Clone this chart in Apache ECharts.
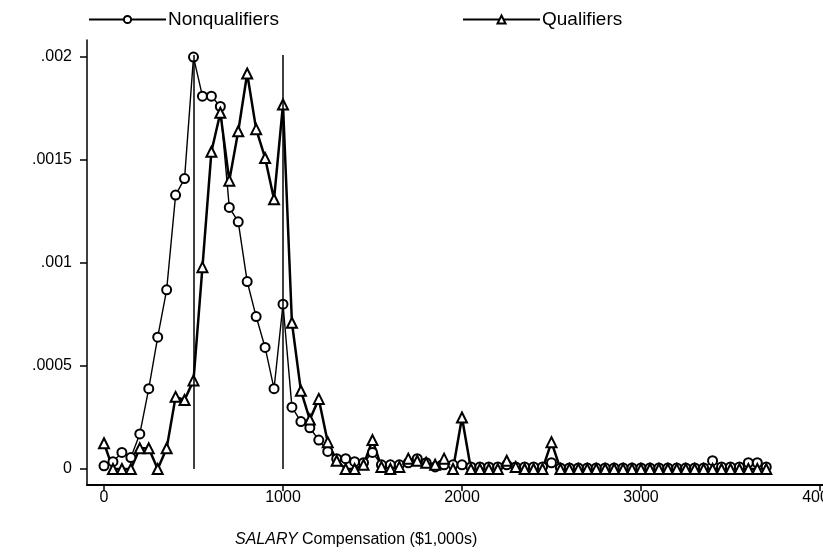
<!DOCTYPE html>
<html style="height: 100%">
<head>
    <meta charset="utf-8">
</head>
<body style="height: 100%; margin: 0; background: #fff">
<div id="container" style="width: 823px; height: 552px"></div>
<script src="https://cdn.jsdelivr.net/npm/echarts@6/dist/echarts.min.js"></script>
<script>
    // salary bins ($1,000s)
    var salary = [
        0, 50, 100, 150, 200, 250, 300, 350, 400, 450,
        500, 550, 600, 650, 700, 750, 800, 850, 900, 950,
        1000, 1050, 1100, 1150, 1200, 1250, 1300, 1350, 1400, 1450,
        1500, 1550, 1600, 1650, 1700, 1750, 1800, 1850, 1900, 1950,
        2000, 2050, 2100, 2150, 2200, 2250, 2300, 2350, 2400, 2450,
        2500, 2550, 2600, 2650, 2700, 2750, 2800, 2850, 2900, 2950,
        3000, 3050, 3100, 3150, 3200, 3250, 3300, 3350, 3400, 3450,
        3500, 3550, 3600, 3650, 3700
    ];
    var nonqualifiers = [
        0.000015, 0.000035, 0.00008, 0.000055, 0.00017, 0.00039, 0.00064, 0.00087, 0.00133, 0.00141,
        0.0020, 0.00181, 0.00181, 0.00176, 0.00127, 0.0012, 0.00091, 0.00074, 0.00059, 0.00039,
        0.0008, 0.0003, 0.00023, 0.0002, 0.00014, 0.000085, 0.00005, 0.00005, 0.000035, 0.00003,
        0.00008, 0.00002, 0.00002, 0.00002, 0.00003, 0.00005, 0.00003, 0.00001, 0.00002, 0.00002,
        0.00002, 0.00001, 0.00001, 0.00001, 0.00001, 0.00002, 0.00001, 0.00001, 0.00001, 0.00001,
        0.00003, 0.000005, 0.000005, 0.000005, 0.000005, 0.000005, 0.000005, 0.000005, 0.000005, 0.000005,
        0.000005, 0.000005, 0.000005, 0.000005, 0.000005, 0.000005, 0.000005, 0.000005, 0.00004, 0.00001,
        0.00001, 0.00001, 0.00003, 0.00003, 0.00001
    ];
    var qualifiers = [
        0.000125, 0, 0, 0, 0.0001, 0.0001, 0, 0.0001, 0.00035, 0.000335,
        0.00043, 0.00098, 0.00154, 0.00173, 0.0014, 0.00164, 0.00192, 0.00165, 0.00151, 0.00131,
        0.00177, 0.00071, 0.00038, 0.00024, 0.00034, 0.00013, 0.00004, 0, 0, 0.00002,
        0.00014, 0.00001, 0, 0.00001, 0.00005, 0.00004, 0.00003, 0.00002, 0.00005, 0,
        0.00025, 0, 0, 0, 0, 0.00004, 0.00001, 0, 0, 0,
        0.00013, 0, 0, 0, 0, 0, 0, 0, 0, 0,
        0, 0, 0, 0, 0, 0, 0, 0, 0, 0,
        0, 0, 0, 0, 0
    ];
    var xTicks = [0, 1000, 2000, 3000, 4000];
    var yTicks = [0, 0.0005, 0.001, 0.0015, 0.002];
    // vertical reference lines
    var refX = [500, 1000];
    var refTop = 0.00201;

    function zip(xs, ys) {
        var out = [];
        for (var i = 0; i < xs.length; i++) {
            out.push([xs[i], ys[i]]);
        }
        return out;
    }

    var refLines = [];
    for (var i = 0; i < refX.length; i++) {
        refLines.push([{coord: [refX[i], 0]}, {coord: [refX[i], refTop]}]);
    }

    var font = '"Liberation Sans", Arial, sans-serif';
    var dom = document.getElementById("container");
    var myChart = echarts.init(dom);

    var option = {
        animation: false,
        textStyle: {fontFamily: font},
        title: {
            text: '{i|SALARY} Compensation ($1,000s)',
            left: 230,
            top: 527,
            textStyle: {
                fontSize: 16,
                fontWeight: 'normal',
                color: '#000',
                fontFamily: font,
                rich: {
                    i: {fontSize: 16, fontStyle: 'italic', color: '#000', fontFamily: font}
                }
            }
        },
        legend: [
            {
                data: ['Nonqualifiers'],
                left: 88,
                top: 10,
                padding: 0,
                itemWidth: 77,
                itemHeight: 9,
                itemGap: 0,
                textStyle: {fontSize: 19, color: '#000', fontFamily: font, padding: [0, 0, 0, -3]}
            },
            {
                data: ['Qualifiers'],
                left: 462,
                top: 10,
                padding: 0,
                itemWidth: 77,
                itemHeight: 10,
                itemGap: 0,
                textStyle: {fontSize: 19, color: '#000', fontFamily: font, padding: [0, 0, 0, -3]}
            }
        ],
        grid: {
            left: 87,
            right: 0,
            top: 40,
            bottom: 67,
            containLabel: false,
            outerBoundsMode: 'none'
        },
        xAxis: {
            type: 'value',
            min: -95,
            max: 4017,
            splitLine: {show: false},
            axisLine: {onZero: false, lineStyle: {color: '#000', width: 2}},
            axisTick: {customValues: xTicks, length: 6, lineStyle: {color: '#000', width: 1.5}},
            axisLabel: {
                customValues: xTicks,
                fontSize: 16,
                color: '#000',
                margin: 5,
                fontFamily: font,
                hideOverlap: false,
                formatter: function (v) {
                    return String(v);
                }
            }
        },
        yAxis: {
            type: 'value',
            min: -0.000078,
            max: 0.002083,
            splitLine: {show: false},
            axisLine: {show: true, onZero: false, lineStyle: {color: '#000', width: 1.5}},
            axisTick: {show: true, customValues: yTicks, length: 7, lineStyle: {color: '#000', width: 1.5}},
            axisLabel: {
                customValues: yTicks,
                fontSize: 16,
                color: '#000',
                margin: 15,
                fontFamily: font,
                formatter: function (v) {
                    return v === 0 ? '0' : String(v).replace(/^0/, '');
                }
            }
        },
        series: [
            {
                name: 'Nonqualifiers',
                type: 'line',
                data: zip(salary, nonqualifiers),
                symbol: 'emptyCircle',
                symbolSize: 9,
                color: '#000',
                lineStyle: {color: '#000', width: 1.4},
                itemStyle: {color: '#000', borderColor: '#000', borderWidth: 1.5},
                markLine: {
                    silent: true,
                    symbol: 'none',
                    label: {show: false},
                    lineStyle: {color: '#000', width: 1.5, type: 'solid'},
                    data: refLines
                }
            },
            {
                name: 'Qualifiers',
                type: 'line',
                data: zip(salary, qualifiers),
                symbol: 'emptyTriangle',
                symbolSize: 10,
                color: '#000',
                lineStyle: {color: '#000', width: 2.5},
                itemStyle: {color: '#000', borderColor: '#000', borderWidth: 2.2}
            }
        ]
    };
    myChart.setOption(option, true);
</script>
</body>
</html>
